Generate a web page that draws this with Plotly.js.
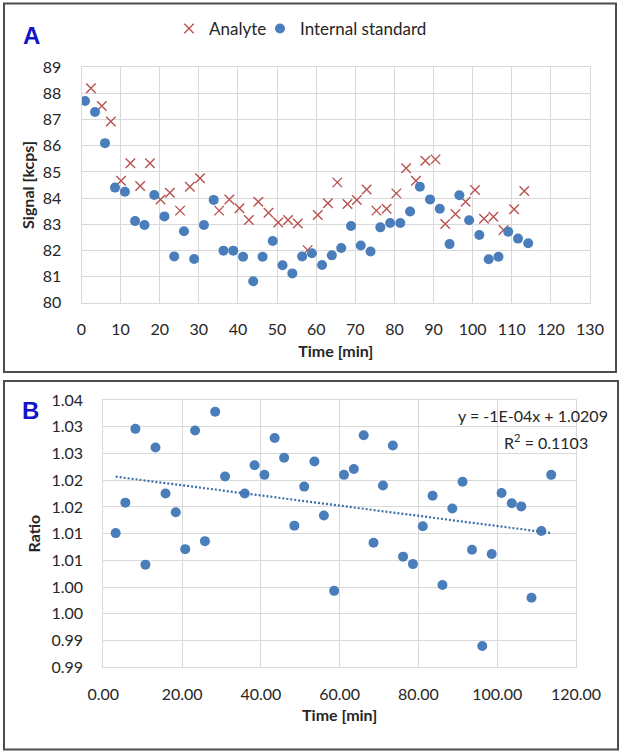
<!DOCTYPE html>
<html><head><meta charset="utf-8">
<script src="https://cdn.plot.ly/plotly-3.0.1.min.js"></script>
<style>html,body{margin:0;padding:0;background:#fff}#chart{width:619px;height:751px}</style>
</head><body><div id="chart"></div>
<script>
// Panel A: signal vs time
const analyteTime = [2.4,5.2,7.5,10.1,12.5,15.0,17.5,20.2,22.6,25.2,27.7,30.3,35.2,37.8,40.4,42.8,45.2,47.8,50.3,52.8,55.3,57.8,60.4,63.0,65.4,68.0,70.4,72.9,75.4,78.0,80.5,83.0,85.5,87.9,90.5,93.0,95.6,98.2,100.6,102.9,105.3,107.9,110.6,113.2];
const analyteSignal = [88.2,87.52,86.93,84.66,85.33,84.46,85.33,83.95,84.2,83.52,84.43,84.76,83.52,83.95,83.61,83.16,83.86,83.44,83.07,83.16,83.03,82.01,83.35,83.8,84.6,83.77,83.93,84.33,83.52,83.59,84.18,85.14,84.66,85.43,85.48,83.01,83.39,83.86,84.31,83.21,83.29,82.78,83.57,84.27];
const isTime = [0.9,3.45,6.0,8.57,11.1,13.7,16.1,18.6,21.2,23.7,26.2,28.8,31.3,33.8,36.3,38.8,41.3,43.9,46.3,48.9,51.4,53.9,56.4,58.9,61.5,64.0,66.4,68.9,71.4,73.9,76.4,78.9,81.5,84.0,86.5,89.1,91.6,94.1,96.6,99.1,101.7,104.1,106.6,109.1,111.6,114.2];
const isSignal = [87.71,87.29,86.1,84.4,84.24,83.12,82.97,84.12,83.30,81.77,82.73,81.67,82.97,83.93,81.99,81.99,81.76,80.82,81.76,82.36,81.43,81.12,81.77,81.89,81.44,81.81,82.09,82.93,82.19,81.96,82.88,83.05,83.05,83.49,84.43,83.95,83.59,82.24,84.11,83.15,82.59,81.66,81.76,82.71,82.45,82.27];
const xTicksA = [0,10,20,30,40,50,60,70,80,90,100,110,120,130];
const yTicksA = [80,81,82,83,84,85,86,87,88,89];

// Panel B: ratio vs time
const ratioTime = [3.15,5.6,8.15,10.7,13.25,15.8,18.4,20.8,23.3,25.8,28.4,30.9,35.9,38.4,40.9,43.5,45.9,48.5,51.0,53.6,56.0,58.6,61.1,63.6,66.1,68.6,71.0,73.5,76.1,78.6,81.1,83.6,86.1,88.6,91.2,93.6,96.2,98.6,101.1,103.7,106.1,108.7,111.2,113.7];
const ratioValue = [1.0151,1.0208,1.0346,1.0092,1.0311,1.0225,1.0190,1.0121,1.0343,1.0136,1.0378,1.0257,1.0225,1.0278,1.0260,1.0329,1.0292,1.0165,1.0238,1.0285,1.0184,1.0043,1.0260,1.0271,1.0334,1.0133,1.0240,1.0315,1.0107,1.0093,1.0164,1.0221,1.0054,1.0197,1.0247,1.0120,0.9940,1.0112,1.0226,1.0207,1.0201,1.0030,1.0155,1.0260];
const xTickValsB = [0,20,40,60,80,100,120];
const xTickTextB = ['0.00','20.00','40.00','60.00','80.00','100.00','120.00'];
const yTickValsB = [0.99,0.995,1.0,1.005,1.01,1.015,1.02,1.025,1.03,1.035,1.04];
const yTickTextB = ['0.99','0.99','1.00','1.00','1.01','1.01','1.02','1.02','1.03','1.03','1.04'];
const equationText = 'y = -1E-04x + 1.0209';
const r2Text = 'R<sup>2</sup> = 0.1103';

// linear least-squares trendline from the ratio data
function linfit(xs, ys) {
  const n = xs.length;
  let sx=0, sy=0, sxx=0, sxy=0;
  for (let i=0;i<n;i++){sx+=xs[i];sy+=ys[i];sxx+=xs[i]*xs[i];sxy+=xs[i]*ys[i];}
  const m = (n*sxy - sx*sy)/(n*sxx - sx*sx);
  const b = (sy - m*sx)/n;
  return {m, b};
}
const fit = linfit(ratioTime, ratioValue);
const trendX = [Math.min(...ratioTime), Math.max(...ratioTime)];
const trendY = trendX.map(x => fit.m*x + fit.b);

const W = 619, H = 751;
const px = v => v / W;
const py = v => 1 - v / H;

const FONT = 'Lato, "Liberation Sans", sans-serif';
const TXT = '#262626';
const GRID = '#d9d9d9';
const BLUE = '#4a7ebb';
const RED = '#b9524f';

const traces = [
  {x: analyteTime, y: analyteSignal, type: 'scatter', mode: 'markers', name: 'Analyte', legend: 'legend',
   marker: {symbol: 'x-thin-open', size: 9.5, color: RED, line: {color: RED, width: 1.4}},
   xaxis: 'x', yaxis: 'y'},
  {x: isTime, y: isSignal, type: 'scatter', mode: 'markers', name: 'Internal standard', legend: 'legend2',
   marker: {symbol: 'circle', size: 10, color: BLUE},
   xaxis: 'x', yaxis: 'y'},
  {x: ratioTime, y: ratioValue, type: 'scatter', mode: 'markers', name: 'Ratio', showlegend: false,
   marker: {symbol: 'circle', size: 10, color: BLUE},
   xaxis: 'x2', yaxis: 'y2'},
  {x: trendX, y: trendY, type: 'scatter', mode: 'lines', name: 'Linear (Ratio)', showlegend: false,
   line: {color: '#3d6ea8', width: 2.2, dash: '2px,2px'},
   xaxis: 'x2', yaxis: 'y2'}
];

const axisCommon = {
  showgrid: true, gridcolor: GRID, gridwidth: 1,
  showline: true, linecolor: GRID, linewidth: 1, mirror: true,
  zeroline: false, ticks: '', fixedrange: true,
  tickfont: {family: FONT, size: 16, color: TXT}
};
const titleFont = {family: FONT, size: 16, color: TXT, weight: 'bold'};
const legendFont = {family: FONT, size: 17, color: TXT};

const layout = {
  width: W, height: H,
  margin: {l: 0, r: 0, t: 0, b: 0},
  paper_bgcolor: '#fff', plot_bgcolor: '#fff',
  font: {family: FONT, color: TXT},
  showlegend: true,
  legend: {orientation: 'h', x: px(169), xanchor: 'left', y: py(29), yanchor: 'middle',
           font: legendFont, bgcolor: 'rgba(0,0,0,0)', itemwidth: 30},
  legend2: {orientation: 'h', x: px(260), xanchor: 'left', y: py(29), yanchor: 'middle',
           font: legendFont, bgcolor: 'rgba(0,0,0,0)', itemwidth: 30},
  xaxis: Object.assign({}, axisCommon, {
    domain: [px(81.5), px(590)], range: [0, 130], tickvals: xTicksA, anchor: 'y',
    ticklabelstandoff: 12,
    title: {text: 'Time [min]', font: titleFont, standoff: 8}
  }),
  yaxis: Object.assign({}, axisCommon, {
    domain: [py(302.7), py(67.3)], range: [80, 89], tickvals: yTicksA, anchor: 'x',
    ticklabelstandoff: 16,
    title: {text: 'Signal [kcps]', font: titleFont, standoff: 4}
  }),
  xaxis2: Object.assign({}, axisCommon, {
    domain: [px(103.3), px(576)], range: [0, 120], tickvals: xTickValsB, ticktext: xTickTextB, anchor: 'y2',
    ticklabelstandoff: 12,
    title: {text: 'Time [min]', font: titleFont, standoff: 8}
  }),
  yaxis2: Object.assign({}, axisCommon, {
    domain: [py(667.3), py(400)], range: [0.99, 1.04], tickvals: yTickValsB, ticktext: yTickTextB, anchor: 'x2',
    ticklabelstandoff: 16,
    title: {text: 'Ratio', font: titleFont, standoff: 6}
  }),
  shapes: [
    {type: 'rect', xref: 'paper', yref: 'paper', x0: px(4), x1: px(616), y0: py(372), y1: py(3.5),
     line: {color: '#4d4d4d', width: 2}, fillcolor: 'rgba(0,0,0,0)'},
    {type: 'rect', xref: 'paper', yref: 'paper', x0: px(4), x1: px(618), y0: py(749.5), y1: py(381),
     line: {color: '#4d4d4d', width: 2}, fillcolor: 'rgba(0,0,0,0)'}
  ],
  annotations: [
    {text: 'A', xref: 'paper', yref: 'paper', x: px(31), y: py(35), xanchor: 'center', yanchor: 'middle',
     showarrow: false, font: {family: '"Liberation Sans", Arial, sans-serif', size: 24, color: '#1414c8', weight: 'bold'}},
    {text: 'B', xref: 'paper', yref: 'paper', x: px(30), y: py(410), xanchor: 'center', yanchor: 'middle',
     showarrow: false, font: {family: '"Liberation Sans", Arial, sans-serif', size: 24, color: '#1414c8', weight: 'bold'}},
    {text: equationText, xref: 'paper', yref: 'paper', x: px(533), y: py(416), xanchor: 'center', yanchor: 'middle',
     showarrow: false, font: {family: FONT, size: 16, color: TXT}},
    {text: r2Text, xref: 'paper', yref: 'paper', x: px(546), y: py(441), xanchor: 'center', yanchor: 'middle',
     showarrow: false, font: {family: FONT, size: 16, color: TXT}}
  ]
};

Plotly.newPlot('chart', traces, layout, {staticPlot: true, displayModeBar: false});
</script>
</body></html>
